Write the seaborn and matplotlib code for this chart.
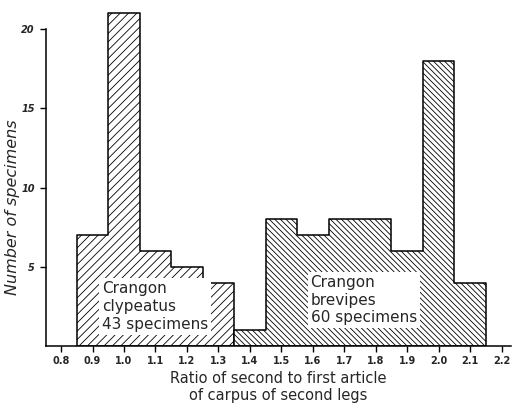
import numpy as np
import pandas as pd
import matplotlib
matplotlib.use("Agg")
import matplotlib.pyplot as plt
import seaborn as sns

# Ratio classes (bin centres) and specimen counts for the two species
clypeatus_ratio = [0.9, 1.0, 1.1, 1.2, 1.3]
clypeatus_count = [7, 21, 6, 5, 4]
brevipes_ratio = [1.4, 1.5, 1.6, 1.7, 1.8, 1.9, 2.0, 2.1]
brevipes_count = [1, 8, 7, 8, 8, 6, 18, 4]
x_ticks = [0.8, 0.9, 1.0, 1.1, 1.2, 1.3, 1.4, 1.5, 1.6, 1.7, 1.8, 1.9, 2.0, 2.1, 2.2]
y_ticks = [5, 10, 15, 20]
bin_width = 0.1

sns.set_style("ticks")
plt.rcParams["font.family"] = ["DejaVu Sans"]
plt.rcParams["hatch.linewidth"] = 0.6
plt.rcParams["hatch.color"] = "#222222"


def edges(centres):
    c = np.asarray(centres, dtype=float)
    return [float(v) for v in np.append(c - bin_width / 2, c[-1] + bin_width / 2)]


fig = plt.figure(figsize=(5.14, 4.05), dpi=100)
ax = fig.add_axes([0.0895, 0.1457, 0.9047, 0.8413])

common = dict(element="step", fill=True, facecolor="white", edgecolor="black",
              linewidth=1.1, alpha=1)
clyp = pd.DataFrame({"ratio": clypeatus_ratio, "count": clypeatus_count})
brev = pd.DataFrame({"ratio": brevipes_ratio, "count": brevipes_count})
sns.histplot(data=clyp, x="ratio", weights="count", bins=edges(clypeatus_ratio),
             hatch="////", ax=ax, **common)
sns.histplot(data=brev, x="ratio", weights="count", bins=edges(brevipes_ratio),
             hatch="\\" * 6, ax=ax, **common)

box = dict(facecolor="white", edgecolor="none", boxstyle="square,pad=0.2")
ax.text(0.929, 2.50, "Crangon\nclypeatus\n43 specimens", fontsize=11,
        va="center", ha="left", linespacing=1.25, bbox=box)
ax.text(1.593, 2.90, "Crangon\nbrevipes\n60 specimens", fontsize=11,
        va="center", ha="left", linespacing=1.2, bbox=box)

ax.set_xlim(0.752, 2.23)
ax.set_ylim(0, 21.5)
ax.set_xticks(x_ticks)
ax.set_xticklabels([f"{t:.1f}" for t in x_ticks], fontsize=7, fontweight="bold")
ax.set_yticks(y_ticks)
ax.set_yticklabels([str(t) for t in y_ticks], fontsize=7, fontstyle="italic",
                   fontweight="bold")
ax.tick_params(axis="both", direction="out", length=4, width=1, color="black", pad=3)
ax.tick_params(axis="y", pad=4)

ax.set_xlabel("Ratio of second to first article\nof carpus of second legs",
              fontsize=10.5, linespacing=1.15, labelpad=4)
ax.set_ylabel("Number of specimens", fontsize=11.5, fontstyle="italic")
ax.yaxis.set_label_coords(-0.056, 0.408)

sns.despine(ax=ax)
ax.spines["left"].set_bounds(0, 20)
for s in ("left", "bottom"):
    ax.spines[s].set_linewidth(1.1)
    ax.spines[s].set_color("black")

fig.savefig("out.png", dpi=100)
